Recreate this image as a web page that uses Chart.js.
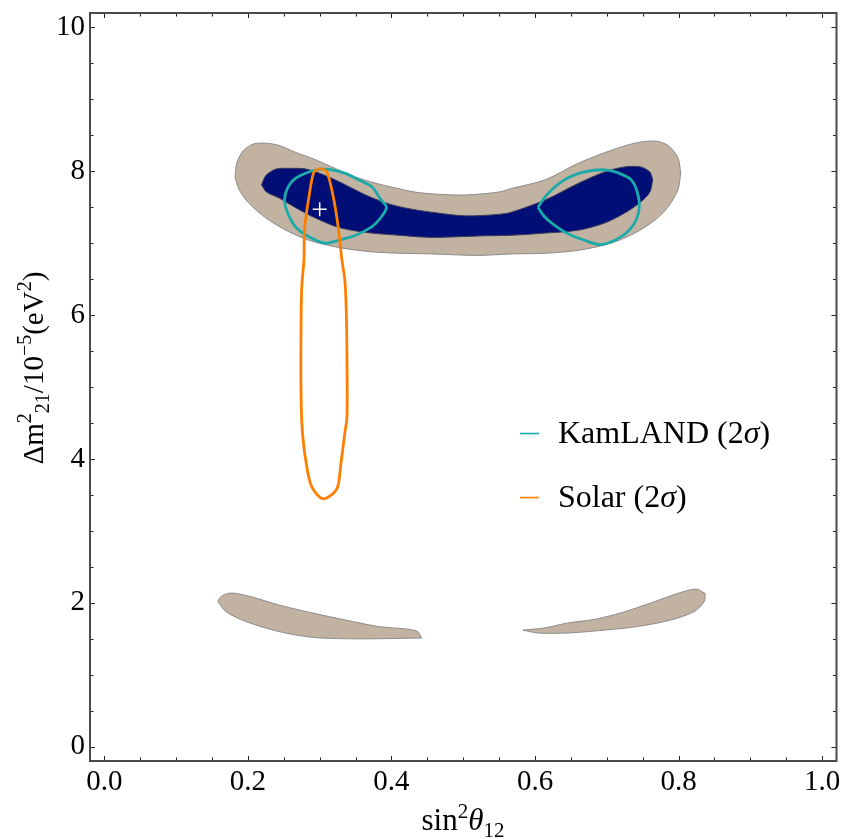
<!DOCTYPE html>
<html lang="en">
<head>
<meta charset="UTF-8">
<title>Solar and KamLAND allowed regions</title>
<script src="https://cdn.jsdelivr.net/npm/chart.js"></script>
<style>
  body { margin: 0; background: #fff; }
</style>
</head>
<body>
<canvas id="chart" width="845" height="839"></canvas>
<script>
// ticks
const xTicks = [0, 0.2, 0.4, 0.6, 0.8, 1.0];
const yTicks = [0, 2, 4, 6, 8, 10];

// outer (tan) region, split into upper / lower edge
const tanUpX = [0.182, 0.185, 0.194, 0.208, 0.225, 0.243, 0.267, 0.289, 0.317, 0.344, 0.372, 0.400, 0.433, 0.465, 0.503, 0.549, 0.567, 0.614, 0.660, 0.706, 0.739, 0.767, 0.785, 0.799, 0.803];
const tanUpY = [7.92, 8.13, 8.29, 8.38, 8.39, 8.36, 8.26, 8.18, 8.06, 7.94, 7.85, 7.78, 7.71, 7.68, 7.67, 7.71, 7.76, 7.88, 8.11, 8.29, 8.39, 8.42, 8.36, 8.19, 7.97];
const tanLoX = [0.182, 0.188, 0.201, 0.225, 0.253, 0.285, 0.326, 0.372, 0.410, 0.456, 0.521, 0.567, 0.614, 0.660, 0.706, 0.739, 0.767, 0.785, 0.799, 0.803];
const tanLoY = [7.92, 7.74, 7.56, 7.35, 7.18, 7.04, 6.94, 6.88, 6.86, 6.85, 6.83, 6.85, 6.86, 6.90, 7.00, 7.14, 7.32, 7.50, 7.74, 7.97];

// inner (navy) region
const navyUpX = [0.219, 0.225, 0.239, 0.257, 0.281, 0.308, 0.336, 0.364, 0.392, 0.419, 0.456, 0.503, 0.549, 0.567, 0.614, 0.660, 0.697, 0.725, 0.747, 0.760, 0.764];
const navyUpY = [7.81, 7.94, 8.03, 8.04, 8.03, 7.94, 7.81, 7.67, 7.56, 7.49, 7.43, 7.38, 7.40, 7.43, 7.60, 7.83, 7.99, 8.06, 8.06, 7.99, 7.88];
const navyLoX = [0.219, 0.226, 0.243, 0.267, 0.294, 0.326, 0.364, 0.410, 0.456, 0.521, 0.567, 0.614, 0.660, 0.697, 0.725, 0.747, 0.760, 0.764];
const navyLoY = [7.81, 7.71, 7.63, 7.49, 7.35, 7.22, 7.15, 7.11, 7.08, 7.10, 7.11, 7.14, 7.18, 7.28, 7.42, 7.57, 7.71, 7.88];

// low dm2 islands
const lowLUpX = [0.158, 0.163, 0.172, 0.183, 0.206, 0.243, 0.289, 0.336, 0.382, 0.435, 0.442];
const lowLUpY = [2.02, 2.09, 2.13, 2.13, 2.08, 1.97, 1.86, 1.76, 1.67, 1.61, 1.51];
const lowLLoX = [0.158, 0.169, 0.197, 0.243, 0.289, 0.336, 0.382, 0.442];
const lowLLoY = [2.02, 1.88, 1.74, 1.60, 1.52, 1.50, 1.50, 1.51];
const lowRUpX = [0.583, 0.613, 0.646, 0.683, 0.720, 0.762, 0.799, 0.824, 0.837];
const lowRUpY = [1.62, 1.65, 1.72, 1.77, 1.86, 2.00, 2.13, 2.19, 2.13];
const lowRLoX = [0.583, 0.604, 0.646, 0.697, 0.743, 0.789, 0.822, 0.836, 0.837];
const lowRLoY = [1.62, 1.58, 1.58, 1.62, 1.67, 1.76, 1.88, 2.02, 2.13];

// KamLAND 2 sigma contours
const kamLX = [0.301, 0.285, 0.266, 0.255, 0.251, 0.255, 0.266, 0.285, 0.308, 0.326, 0.350, 0.373, 0.384, 0.393, 0.384, 0.373, 0.354, 0.336, 0.317, 0.301];
const kamLY = [8.03, 7.99, 7.90, 7.76, 7.60, 7.43, 7.23, 7.09, 7.00, 7.04, 7.11, 7.23, 7.34, 7.50, 7.62, 7.78, 7.88, 7.97, 8.02, 8.03];
const kamRX = [0.604, 0.618, 0.641, 0.669, 0.697, 0.715, 0.734, 0.743, 0.745, 0.738, 0.720, 0.692, 0.669, 0.646, 0.627, 0.613, 0.604];
const kamRY = [7.50, 7.69, 7.88, 7.99, 8.02, 7.98, 7.88, 7.69, 7.48, 7.27, 7.09, 6.98, 7.04, 7.13, 7.25, 7.37, 7.50];

// Solar 2 sigma contour
const solarX = [0.301, 0.310, 0.319, 0.326, 0.331, 0.335, 0.337, 0.338, 0.338, 0.335, 0.329, 0.325, 0.315, 0.303, 0.289, 0.282, 0.276, 0.274, 0.274, 0.275, 0.278, 0.279, 0.285, 0.292, 0.301];
const solarY = [8.04, 7.99, 7.64, 7.21, 6.76, 6.49, 6.07, 5.38, 4.58, 4.36, 3.89, 3.61, 3.49, 3.45, 3.61, 3.89, 4.36, 4.92, 5.83, 6.39, 6.76, 7.21, 7.64, 7.99, 8.04];

// best fit
const bestX = [0.30];
const bestY = [7.47];

const legendLabels = ['KamLAND (2σ)', 'Solar (2σ)'];

const pts = (xs, ys) => xs.map((x, i) => ({ x: x, y: ys[i] }));

const TAN = '#C1B2A1', NAVY = '#000E76', CYAN = '#19AAA9', ORANGE = '#FF7F00';
const SERIF = '"Liberation Serif", "DejaVu Serif", serif';

function edge(data, fill, color, border) {
    return {
        data: data, showLine: true, pointRadius: 0, tension: 0.3,
        borderColor: border, borderWidth: 1, backgroundColor: color, fill: fill
    };
}
function contour(label, data, color) {
    return {
        label: label, data: data, showLine: true, pointRadius: 0, tension: 0.3,
        borderColor: color, borderWidth: 2.8, fill: false
    };
}

// draws a list of [text, kind] pieces; kind: n, it, sup, sub
function richText(ctx, parts, x, y, size, align) {
    const fontFor = k => (k === 'it' ? 'italic ' : '') + ((k === 'sup' || k === 'sub') ? Math.round(size * 0.68) : size) + 'px ' + SERIF;
    let w = 0;
    parts.forEach(p => { ctx.font = fontFor(p[1]); w += ctx.measureText(p[0]).width; });
    let cx = align === 'center' ? x - w / 2 : x;
    ctx.textBaseline = 'alphabetic';
    ctx.textAlign = 'left';
    parts.forEach(p => {
        ctx.font = fontFor(p[1]);
        const dy = p[1] === 'sup' ? -size * 0.4 : p[1] === 'sub' ? size * 0.22 : 0;
        ctx.fillText(p[0], cx, y + dy);
        cx += ctx.measureText(p[0]).width;
    });
}

const decor = {
    id: 'decor',
    afterDraw(chart) {
        const { ctx, chartArea: a, scales: { x, y } } = chart;
        ctx.save();
        // inward ticks
        ctx.strokeStyle = '#222';
        ctx.lineWidth = 1;
        ctx.beginPath();
        for (let i = 0; i <= 20; i++) {
            const len = i % 4 === 0 ? 5 : 3.5;
            const px = Math.round(x.getPixelForValue(i * 0.05)) + 0.5;
            ctx.moveTo(px, a.bottom); ctx.lineTo(px, a.bottom - len);
            ctx.moveTo(px, a.top); ctx.lineTo(px, a.top + len);
            const py = Math.round(y.getPixelForValue(i * 0.5)) + 0.5;
            ctx.moveTo(a.left, py); ctx.lineTo(a.left + len, py);
            ctx.moveTo(a.right, py); ctx.lineTo(a.right - len, py);
        }
        ctx.stroke();
        // frame
        ctx.strokeStyle = '#4a4a4a';
        ctx.lineWidth = 2;
        ctx.strokeRect(a.left, a.top, a.right - a.left, a.bottom - a.top);

        ctx.fillStyle = '#000';
        // x title
        richText(ctx, [['sin', 'n'], ['2', 'sup'], ['θ', 'it'], ['12', 'sub']], 463, 830, 31, 'center');
        // y title
        ctx.save();
        ctx.translate(43, 368);
        ctx.rotate(-Math.PI / 2);
        richText(ctx, [['Δm', 'n'], ['2', 'sup'], ['21', 'sub'], ['/10', 'n'], ['−5', 'sup'], ['(eV', 'n'], ['2', 'sup'], [')', 'n']], 0, 0, 29, 'center');
        ctx.restore();

        // legend
        legendLabels.forEach((label, i) => {
            const d = chart.data.datasets.find(ds => ds.label === label);
            const lx = x.getPixelForValue(0.579);
            const ly = y.getPixelForValue(4.36 - i * 0.89);
            ctx.strokeStyle = d.borderColor;
            ctx.lineWidth = 1.6;
            ctx.beginPath();
            ctx.moveTo(lx, ly + 0.5); ctx.lineTo(lx + 19, ly + 0.5);
            ctx.stroke();
            const parts = label.split('σ');
            richText(ctx, [[parts[0], 'n'], ['σ', 'it'], [parts[1], 'n']], lx + 38, ly + 10, 32, 'left');
        });
        ctx.restore();
    }
};

new Chart(document.getElementById('chart'), {
    type: 'scatter',
    data: {
        datasets: [
            { data: pts(bestX, bestY), pointStyle: 'cross', pointRadius: 7, borderColor: '#fff', borderWidth: 1.5, backgroundColor: '#fff' },
            contour('Solar (2σ)', pts(solarX, solarY), ORANGE),
            contour('KamLAND (2σ)', pts(kamLX, kamLY), CYAN),
            contour('', pts(kamRX, kamRY), CYAN),
            edge(pts(navyUpX, navyUpY), '+1', NAVY, '#3a3a5a'),
            edge(pts(navyLoX, navyLoY), false, NAVY, '#3a3a5a'),
            edge(pts(tanUpX, tanUpY), '+1', TAN, '#8c8c8c'),
            edge(pts(tanLoX, tanLoY), false, TAN, '#8c8c8c'),
            edge(pts(lowLUpX, lowLUpY), '+1', TAN, '#8c8c8c'),
            edge(pts(lowLLoX, lowLLoY), false, TAN, '#8c8c8c'),
            edge(pts(lowRUpX, lowRUpY), '+1', TAN, '#8c8c8c'),
            edge(pts(lowRLoX, lowRLoY), false, TAN, '#8c8c8c')
        ]
    },
    options: {
        responsive: false,
        animation: false,
        devicePixelRatio: 1,
        layout: { padding: { top: 13, right: 5, left: 0, bottom: 0 } },
        plugins: {
            legend: { display: false },
            tooltip: { enabled: false },
            filler: { drawTime: 'beforeDatasetsDraw' }
        },
        scales: {
            x: {
                type: 'linear', min: -0.02, max: 1.02,
                afterBuildTicks: s => { s.ticks = xTicks.map(v => ({ value: v })); },
                afterFit: s => { s.height = 78; s.paddingLeft = 0; s.paddingRight = 0; },
                grid: { display: false, drawTicks: false },
                border: { display: false },
                ticks: { color: '#000', padding: 4, maxRotation: 0, font: { family: SERIF, size: 29 }, callback: v => v.toFixed(1) }
            },
            y: {
                type: 'linear', min: -0.2, max: 10.2,
                afterBuildTicks: s => { s.ticks = yTicks.map(v => ({ value: v })); },
                afterFit: s => { s.width = 90; s.paddingTop = 0; s.paddingBottom = 0; },
                grid: { display: false, drawTicks: false },
                border: { display: false },
                ticks: { color: '#000', padding: 5, font: { family: SERIF, size: 29 }, callback: v => String(v) }
            }
        }
    },
    plugins: [decor]
});
</script>
</body>
</html>
